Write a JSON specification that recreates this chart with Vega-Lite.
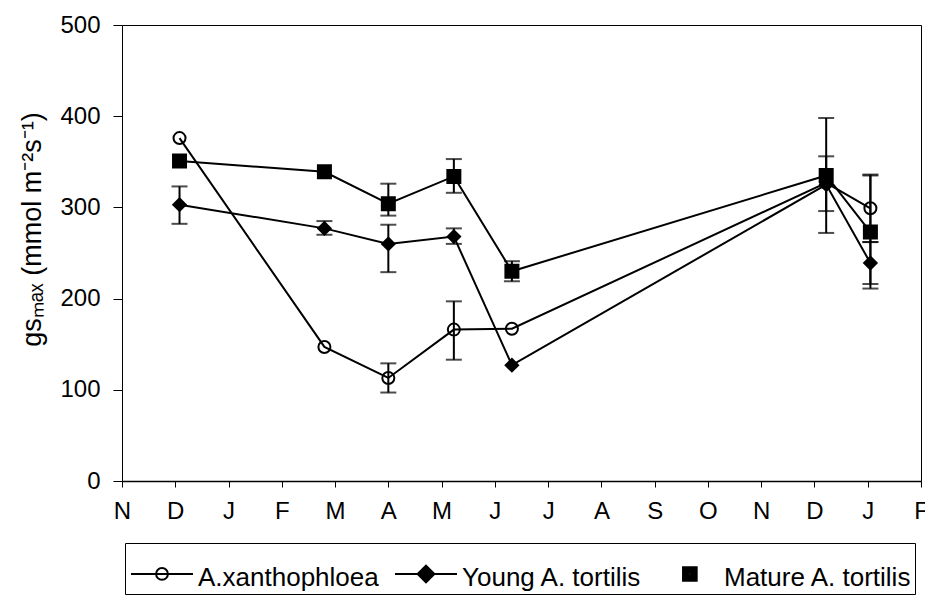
{
  "$schema": "https://vega.github.io/schema/vega-lite/v6.json",
  "width": 799,
  "height": 456,
  "autosize": "none",
  "padding": {"left": 122, "top": 25, "right": 4, "bottom": 115},
  "background": "white",
  "config": {
    "view": {"stroke": "black", "strokeWidth": 1},
    "font": "Liberation Sans",
    "axis": {
      "domainColor": "black",
      "tickColor": "black",
      "labelColor": "black",
      "titleColor": "black",
      "labelFont": "Liberation Sans",
      "titleFont": "Liberation Sans",
      "labelFontSize": 24,
      "titleFontSize": 27,
      "titleFontWeight": "normal",
      "grid": false
    }
  },
  "data": {
    "values": [
      {"series": "A.xanthophloea", "t": 1.08, "v": 376},
      {"series": "A.xanthophloea", "t": 3.8, "v": 147},
      {"series": "A.xanthophloea", "t": 5.0, "v": 113, "lo": 97, "hi": 129},
      {"series": "A.xanthophloea", "t": 6.23, "v": 166, "lo": 133, "hi": 197},
      {"series": "A.xanthophloea", "t": 7.32, "v": 167},
      {"series": "A.xanthophloea", "t": 13.22, "v": 327, "lo": 296, "hi": 356},
      {"series": "A.xanthophloea", "t": 14.05, "v": 299, "lo": 262, "hi": 336},
      {"series": "Young A. tortilis", "t": 1.08, "v": 303, "lo": 282, "hi": 323},
      {"series": "Young A. tortilis", "t": 3.8, "v": 277, "lo": 270, "hi": 285},
      {"series": "Young A. tortilis", "t": 5.0, "v": 260, "lo": 229, "hi": 281},
      {"series": "Young A. tortilis", "t": 6.23, "v": 268, "lo": 260, "hi": 277},
      {"series": "Young A. tortilis", "t": 7.32, "v": 127},
      {"series": "Young A. tortilis", "t": 13.22, "v": 325},
      {"series": "Young A. tortilis", "t": 14.05, "v": 239, "lo": 216, "hi": 262},
      {"series": "Mature A. tortilis", "t": 1.08, "v": 351},
      {"series": "Mature A. tortilis", "t": 3.8, "v": 339},
      {"series": "Mature A. tortilis", "t": 5.0, "v": 304, "lo": 291, "hi": 326},
      {"series": "Mature A. tortilis", "t": 6.23, "v": 334, "lo": 316, "hi": 353},
      {"series": "Mature A. tortilis", "t": 7.32, "v": 230, "lo": 219, "hi": 241},
      {"series": "Mature A. tortilis", "t": 13.22, "v": 335, "lo": 272, "hi": 398},
      {"series": "Mature A. tortilis", "t": 14.05, "v": 273, "lo": 211, "hi": 335}
    ]
  },
  "layer": [
    {
      "mark": {"type": "line", "color": "black", "strokeWidth": 2},
      "encoding": {
        "x": {
          "field": "t", "type": "quantitative",
          "scale": {"domain": [0, 15], "nice": false, "zero": false},
          "axis": {
            "title": null,
            "values": [0, 1, 2, 3, 4, 5, 6, 7, 8, 9, 10, 11, 12, 13, 14, 15],
            "labelExpr": "['N','D','J','F','M','A','M','J','J','A','S','O','N','D','J','F'][datum.value]",
            "tickSize": 6,
            "labelPadding": 12,
            "labelAngle": 0,
            "labelFlush": false,
            "labelOverlap": false,
            "domainWidth": 1.5
          }
        },
        "y": {
          "field": "v", "type": "quantitative",
          "title": "gsₘₐₓ (mmol m⁻²s⁻¹)",
          "scale": {"domain": [0, 500], "nice": false},
          "axis": {
            "values": [0, 100, 200, 300, 400, 500],
            "tickSize": 9,
            "labelPadding": 13,
            "labelFlush": false,
            "titleX": -90,
            "titleY": 204,
            "titleAngle": -90,
            "titleAlign": "center",
            "titleBaseline": "middle"
          }
        },
        "detail": {"field": "series", "type": "nominal"}
      }
    },
    {
      "transform": [{"filter": "isValid(datum.lo)"}],
      "mark": {
        "type": "errorbar",
        "color": "black",
        "thickness": 2,
        "ticks": {"size": 16, "thickness": 2, "color": "black"}
      },
      "encoding": {
        "x": {"field": "t", "type": "quantitative"},
        "y": {"field": "lo", "type": "quantitative", "title": "gsₘₐₓ (mmol m⁻²s⁻¹)"},
        "y2": {"field": "hi"}
      }
    },
    {
      "mark": {"type": "point", "stroke": "black", "strokeWidth": 2, "opacity": 1},
      "encoding": {
        "x": {"field": "t", "type": "quantitative"},
        "y": {"field": "v", "type": "quantitative", "title": "gsₘₐₓ (mmol m⁻²s⁻¹)"},
        "shape": {
          "field": "series", "type": "nominal",
          "scale": {"domain": ["A.xanthophloea", "Young A. tortilis", "Mature A. tortilis"], "range": ["circle", "diamond", "square"]},
          "legend": null
        },
        "fill": {
          "field": "series", "type": "nominal",
          "scale": {"domain": ["A.xanthophloea", "Young A. tortilis", "Mature A. tortilis"], "range": ["transparent", "black", "black"]},
          "legend": null
        },
        "size": {
          "field": "series", "type": "nominal",
          "scale": {"domain": ["A.xanthophloea", "Young A. tortilis", "Mature A. tortilis"], "range": [144, 169, 196]},
          "legend": null
        }
      }
    },
    {
      "transform": [{"filter": "false"}],
      "mark": {"type": "point", "opacity": 1},
      "encoding": {
        "shape": {
          "field": "series", "type": "nominal",
          "scale": {
            "domain": ["A.xanthophloea", "Young A. tortilis", "Mature A. tortilis"],
            "range": [
              "M-1,-0.13H1M0.19,-0.13A0.19,0.19,0,1,1,-0.19,-0.13A0.19,0.19,0,1,1,0.19,-0.13Z",
              "M-1,-0.13H1M-0.27,-0.13L0,-0.4L0.27,-0.13L0,0.14ZM-0.2,-0.13L0,-0.33L0.2,-0.13L0,0.07ZM-0.13,-0.13L0,-0.26L0.13,-0.13L0,0ZM-0.06,-0.13L0,-0.19L0.06,-0.13L0,-0.07Z",
              "M-0.16,-0.35H0.28V0.09H-0.16ZM-0.1,-0.29H0.22V0.03H-0.1ZM-0.04,-0.23H0.16V-0.03H-0.04ZM0.02,-0.17H0.1V-0.09H0.02Z"
            ]
          },
          "legend": {
            "orient": "none",
            "legendX": 3,
            "legendY": 518,
            "direction": "horizontal",
            "columns": 3,
            "title": null,
            "padding": 3,
            "strokeColor": "black",
            "fillColor": "white",
            "symbolSize": 3844,
            "symbolStrokeWidth": 2,
            "symbolStrokeColor": "black",
            "symbolOffset": 2,
            "columnPadding": 12,
            "labelFontSize": 26,
            "labelFont": "Liberation Sans",
            "labelColor": "black",
            "labelLimit": 1000,
            "encode": {
              "symbols": {
                "stroke": {"value": "black"},
                "strokeWidth": {"value": 2}
              },
              "labels": {
                "dy": {"value": -4}
              }
            }
          }
        }
      }
    }
  ],
  "resolve": {"scale": {"shape": "independent"}}
}
